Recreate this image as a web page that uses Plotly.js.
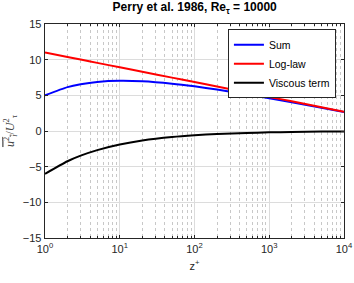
<!DOCTYPE html>
<html><head><meta charset="utf-8">
<script src="https://cdn.plot.ly/plotly-3.0.1.min.js"></script>
<style>html,body{margin:0;padding:0;background:#fff}#chart{width:354px;height:283px}</style>
</head><body><div id="chart"></div>
<script>
// z+ sample positions
const zPlus = [1, 2, 3, 5, 10, 20, 50, 100, 200, 500, 1000, 2000, 5000, 10000];
// Sum of log-law and viscous term
const sumVals = [5.0, 6.15, 6.55, 6.87, 7.03, 6.96, 6.63, 6.26, 5.81, 5.14, 4.59, 4.03, 3.25, 2.65];
// Log-law
const logLaw = [11.0, 10.38, 10.01, 9.55, 8.93, 8.30, 7.48, 6.86, 6.23, 5.41, 4.78, 4.16, 3.33, 2.71];
// Viscous term
const viscous = [-6.0, -4.24, -3.46, -2.68, -1.90, -1.34, -0.85, -0.60, -0.42, -0.27, -0.19, -0.13, -0.08, -0.06];
const seriesNames = ['Sum', 'Log-law', 'Viscous term'];
const xTickVals = [1, 10, 100, 1000, 10000];
const xTickText = ['10<sup>0</sup>', '10<sup>1</sup>', '10<sup>2</sup>', '10<sup>3</sup>', '10<sup>4</sup>'];
const yTickVals = [-15, -10, -5, 0, 5, 10, 15];

const colors = ['#0000ff', '#ff0000', '#000000'];
const data = [sumVals, logLaw, viscous].map((y, i) => ({
  x: zPlus, y: y, type: 'scatter', mode: 'lines', name: seriesNames[i],
  line: {color: colors[i], width: 2, shape: 'spline', smoothing: 0.6}
}));

const axCol = '#262626';
const layout = {
  width: 354, height: 283,
  margin: {l: 45, r: 10, t: 24, b: 45},
  paper_bgcolor: '#fff', plot_bgcolor: '#fff',
  font: {family: 'Liberation Sans, Arial, sans-serif', size: 11, color: axCol},
  title: {text: '<b>Perry et al. 1986, Re<sub>τ</sub> = 10000</b>', x: 0.55, xanchor: 'center', y: 0.99, yanchor: 'top',
          font: {size: 12, color: '#000'}},
  showlegend: true,
  legend: {x: 0.973, xanchor: 'right', y: 0.975, yanchor: 'top', bgcolor: '#fff',
           bordercolor: axCol, borderwidth: 1, font: {size: 10.5, color: '#000'},
           tracegroupgap: 0, itemwidth: 30},
  xaxis: {
    type: 'log', range: [0, 4], tickvals: xTickVals, ticktext: xTickText,
    showline: true, mirror: 'ticks', linecolor: axCol, linewidth: 1.3,
    ticks: 'inside', ticklen: 3, tickcolor: axCol,
    showgrid: true, gridcolor: '#dcdcdc', gridwidth: 1, zeroline: false,
    tickfont: {size: 11, color: axCol},
    minor: {dtick: 'D1', showgrid: true, gridcolor: '#c8c8c8', griddash: 'dot', gridwidth: 1,
            ticks: 'inside', ticklen: 2, tickcolor: axCol},
    title: {text: 'z<sup>+</sup>', font: {size: 11, color: axCol}, standoff: 8}
  },
  yaxis: {
    range: [-15, 15], tickvals: yTickVals,
    showline: true, mirror: 'ticks', linecolor: axCol, linewidth: 1.3,
    ticks: 'inside', ticklen: 3, tickcolor: axCol,
    showgrid: true, gridcolor: '#dcdcdc', gridwidth: 1, zeroline: false,
    tickfont: {size: 11, color: axCol},
    title: {text: '<span style="text-decoration:overline"><i>u</i><sup>2</sup><sub><i>i</i></sub></span>/<i>U</i><sup>2</sup><sub>τ</sub>',
            font: {size: 12, color: '#444', family: 'Liberation Serif, DejaVu Serif, serif'}, standoff: 5}
  }
};
Plotly.newPlot('chart', data, layout, {displayModeBar: false, staticPlot: true});
</script></body></html>
